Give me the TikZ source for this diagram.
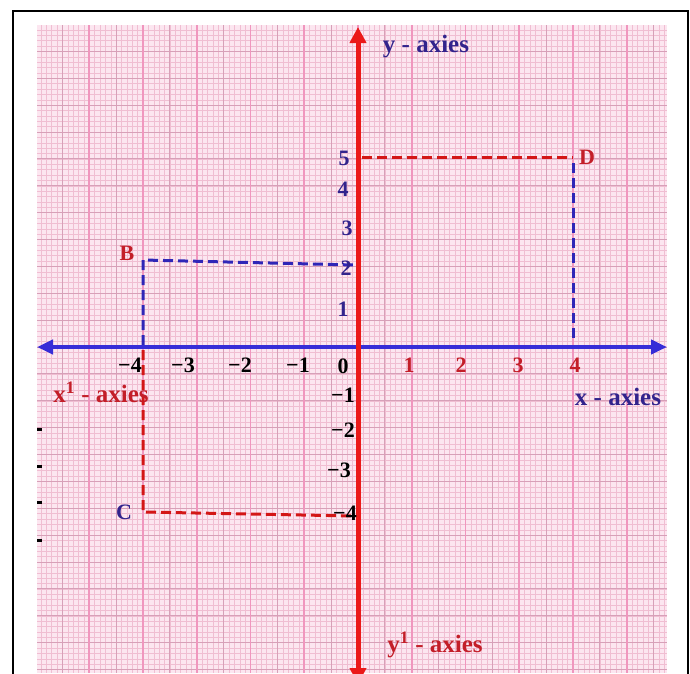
\documentclass[tikz,border=0pt]{standalone}
\usepackage{fontspec}
\setmainfont{Liberation Serif}
\usepackage{tikz}
\usetikzlibrary{arrows.meta, positioning, calc}

\definecolor{paper}{RGB}{252,230,240}
\definecolor{fineline}{RGB}{240,190,210}
\definecolor{midline}{RGB}{215,160,184}
\definecolor{majline}{RGB}{240,150,190}
\definecolor{axisred}{RGB}{235,25,25}
\definecolor{axisblue}{RGB}{55,45,215}
\definecolor{labnavy}{RGB}{50,35,140}
\definecolor{labred}{RGB}{195,30,40}

\begin{document}
\begin{tikzpicture}[
		x=1pt, y=-1pt,
		every node/.style={inner sep=0pt, font=\bfseries\fontsize{22}{24}\selectfont},
		fine/.style={fineline, line width=0.4pt},
		mid/.style={midline, line width=0.9pt},
		major/.style={majline, line width=1.6pt},
		axislab/.style={font=\bfseries\fontsize{25}{28}\selectfont},
		dashred/.style={axisred!90!black, line width=3pt, dash pattern=on 10pt off 5pt},
		dashblue/.style={axisblue!85!black, line width=3pt, dash pattern=on 10pt off 5pt}
		]
		
		\useasboundingbox (0,0) rectangle (690,673);
		\fill[white] (0,0) rectangle (690,673);
		
		% Papel milimetrado
		\begin{scope}
			\clip (37,25) rectangle (667,673);
			\fill[paper] (37,25) rectangle (667,673);
			\foreach \k in {-61,...,61} {
				\draw[fine] ({358+5.375*\k},25) -- ++(0,648);
				\draw[fine] (37,{347+5.375*\k}) -- ++(630,0);
			}
			\foreach \k in {-13,...,12} {
				\draw[mid] ({358+26.875*\k},25) -- ++(0,648);
				\draw[mid] (37,{347+26.875*\k}) -- ++(630,0);
			}
			\foreach \k in {-7,...,6}
				\draw[major] ({358+53.75*\k},25) -- ++(0,648);
		\end{scope}
		
		% Marco
		\draw[line width=2pt] (13,690) -- (13,11) -- (688,11) -- (688,690);
		
		% Marcas sueltas
		\foreach \yy in {429,466,502,540}
			\fill (37,{\yy-1.5}) rectangle (42,{\yy+1.5});
		
		% Puntos
		\coordinate (B) at (143,260);
		\coordinate (C) at (143,512);
		\coordinate (D) at (573,157);
		\coordinate (yb) at (355,265);
		\coordinate (yc) at (355,516);
		\coordinate (yd) at (362,157);
		\coordinate (xb) at (143,345);
		\coordinate (xc) at (143,350);
		\coordinate (xd) at (573,340);
		\coordinate (Dtop) at (573,163);
		
		% Lineas discontinuas
		\draw[dashblue] (xb) -- (B) -- (yb);
		\draw[dashred] (xc) -- (C) -- (yc);
		\draw[dashred] (yd) -- (D);
		\draw[dashblue] (Dtop) -- (xd);
		
		% Ejes
		\coordinate (xleft) at (37,347);
		\coordinate (xright) at (667,347);
		\coordinate (ytop) at (358,27);
		\coordinate (ybot) at (358,684);
		\draw[axisblue, line width=4pt, {Triangle[width=14pt,length=16pt]}-{Triangle[width=14pt,length=16pt]}] (xleft) -- (xright);
		\draw[axisred, line width=5pt, {Triangle[width=16pt,length=16pt]}-{Triangle[width=16pt,length=16pt]}] (ybot) -- (ytop);
		
		% Numeros eje x
		\node (xm4) at (130,365) {−4};
		\node (xm3) at (183,365) {−3};
		\node (xm2) at (240,365) {−2};
		\node (xm1) at (298,365) {−1};
		\node (x0) at (343,366) {0};
		\node[labred] (x1) at (409,365) {1};
		\node[labred] (x2) at (461,365) {2};
		\node[labred] (x3) at (518,365) {3};
		\node[labred] (x4) at (575,365) {4};
		
		% Numeros eje y
		\node[labnavy] (y5) at (344,158) {5};
		\node[labnavy] (y4) at (343,189) {4};
		\node[labnavy] (y3) at (347,228) {3};
		\node[labnavy] (y2) at (346,268) {2};
		\node[labnavy] (y1) at (343,309) {1};
		\node (ym1) at (343,395) {−1};
		\node (ym2) at (343,430) {−2};
		\node (ym3) at (339,470) {−3};
		\node (ym4) at (345,513) {−4};
		
		% Letras
		\node[labred] (Blab) at (127,253) {B};
		\node[labnavy] (Clab) at (124,512) {C};
		\node[labred] (Dlab) at (587,157) {D};
		
		% Nombres de ejes
		\node[axislab, labnavy] (yax) at (426,47) {y - axies};
		\node[axislab, labnavy] (xax) at (618,397) {x - axies};
		\node[axislab, labred] (xax1) at (101,392) {x\textsuperscript{1} - axies};
		\node[axislab, labred] (yax1) at (435,645) {y\textsuperscript{1} - axies};
	\end{tikzpicture}
\end{document}
